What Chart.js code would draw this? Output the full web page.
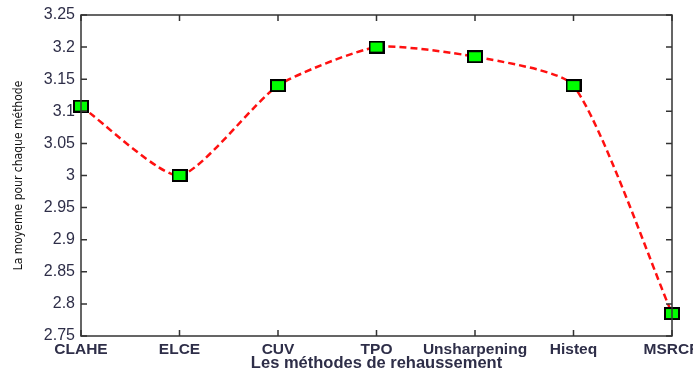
<!DOCTYPE html>
<html lang="fr">
<head>
<meta charset="UTF-8">
<script src="https://cdn.jsdelivr.net/npm/chart.js@4.4.0/dist/chart.umd.min.js"></script>
<title>Moyenne par méthode</title>
<style>
  html, body { margin: 0; padding: 0; background: #fff; }
  #wrap { width: 693px; height: 370px; position: relative; }
</style>
</head>
<body>
<div id="wrap"><canvas id="chart"></canvas></div>
<script>
const methodes = ['CLAHE', 'ELCE', 'CUV', 'TPO', 'Unsharpening', 'Histeq', 'MSRCR'];
const moyennes = [3.108, 3.0, 3.14, 3.2, 3.185, 3.14, 2.785];
const yTicks = [2.75, 2.8, 2.85, 2.9, 2.95, 3, 3.05, 3.1, 3.15, 3.2, 3.25];

const labelColor = '#2e2e48';

// green square marker, a bit wider than tall
const marker = document.createElement('canvas');
marker.width = 16;
marker.height = 13;
(function () {
    const c = marker.getContext('2d');
    c.fillStyle = '#000';
    c.fillRect(0, 0, 16, 13);
    c.fillStyle = '#00ff00';
    c.fillRect(2, 2, 12, 9);
})();

// matlab-like box with inward ticks
const boxTicks = {
    id: 'boxTicks',
    afterDraw(chart) {
        const { ctx, chartArea: a, scales } = chart;
        ctx.save();
        ctx.strokeStyle = '#333';
        ctx.lineWidth = 1.5;
        ctx.strokeRect(a.left, a.top, a.right - a.left, a.bottom - a.top);
        ctx.beginPath();
        scales.y.ticks.forEach((t, i) => {
            const y = scales.y.getPixelForTick(i);
            ctx.moveTo(a.left, y); ctx.lineTo(a.left + 6, y);
            ctx.moveTo(a.right, y); ctx.lineTo(a.right - 6, y);
        });
        scales.x.ticks.forEach((t, i) => {
            const x = scales.x.getPixelForTick(i);
            ctx.moveTo(x, a.bottom); ctx.lineTo(x, a.bottom - 6);
            ctx.moveTo(x, a.top); ctx.lineTo(x, a.top + 6);
        });
        ctx.stroke();
        ctx.restore();
    }
};

new Chart(document.getElementById('chart'), {
    type: 'line',
    data: {
        labels: methodes,
        datasets: [{
            data: moyennes,
            borderColor: '#ff1010',
            borderWidth: 2.5,
            borderDash: [7, 4],
            tension: 0.2,
            pointStyle: marker,
            pointRadius: 7,
            clip: false
        }]
    },
    plugins: [boxTicks],
    options: {
        responsive: true,
        maintainAspectRatio: false,
        animation: false,
        layout: { padding: { left: 0, right: 21, top: 15, bottom: 0 } },
        plugins: { legend: { display: false }, tooltip: { enabled: false } },
        scales: {
            x: {
                offset: false,
                grid: { display: false, drawTicks: false },
                border: { display: false },
                ticks: {
                    color: labelColor,
                    font: { family: 'Liberation Sans', size: 15.5, weight: 'bold' },
                    padding: 4,
                    maxRotation: 0,
                    autoSkip: false
                },
                title: {
                    display: true,
                    text: 'Les méthodes de rehaussement',
                    color: labelColor,
                    font: { family: 'Liberation Sans', size: 16.5, weight: 'bold' },
                    padding: { top: 0, bottom: -3 }
                },
                afterFit(s) {
                    s.height = 34;
                    s.paddingLeft = 0;
                    s.paddingRight = 0;
                }
            },
            y: {
                min: 2.75,
                max: 3.25,
                grid: { display: false, drawTicks: false },
                border: { display: false },
                afterBuildTicks(s) { s.ticks = yTicks.map(v => ({ value: v })); },
                ticks: {
                    color: labelColor,
                    font: { family: 'Liberation Sans', size: 16 },
                    padding: 6,
                    callback: v => String(Math.round(v * 100) / 100)
                },
                title: {
                    display: true,
                    text: 'La moyenne pour chaque méthode',
                    color: '#111',
                    font: { family: "'DejaVu Sans Condensed', 'Liberation Sans'", size: 12 },
                    padding: { top: 12, bottom: 0 }
                },
                afterFit(s) {
                    s.width = 81;
                    s.paddingTop = 0;
                    s.paddingBottom = 0;
                }
            }
        }
    }
});
</script>
</body>
</html>
